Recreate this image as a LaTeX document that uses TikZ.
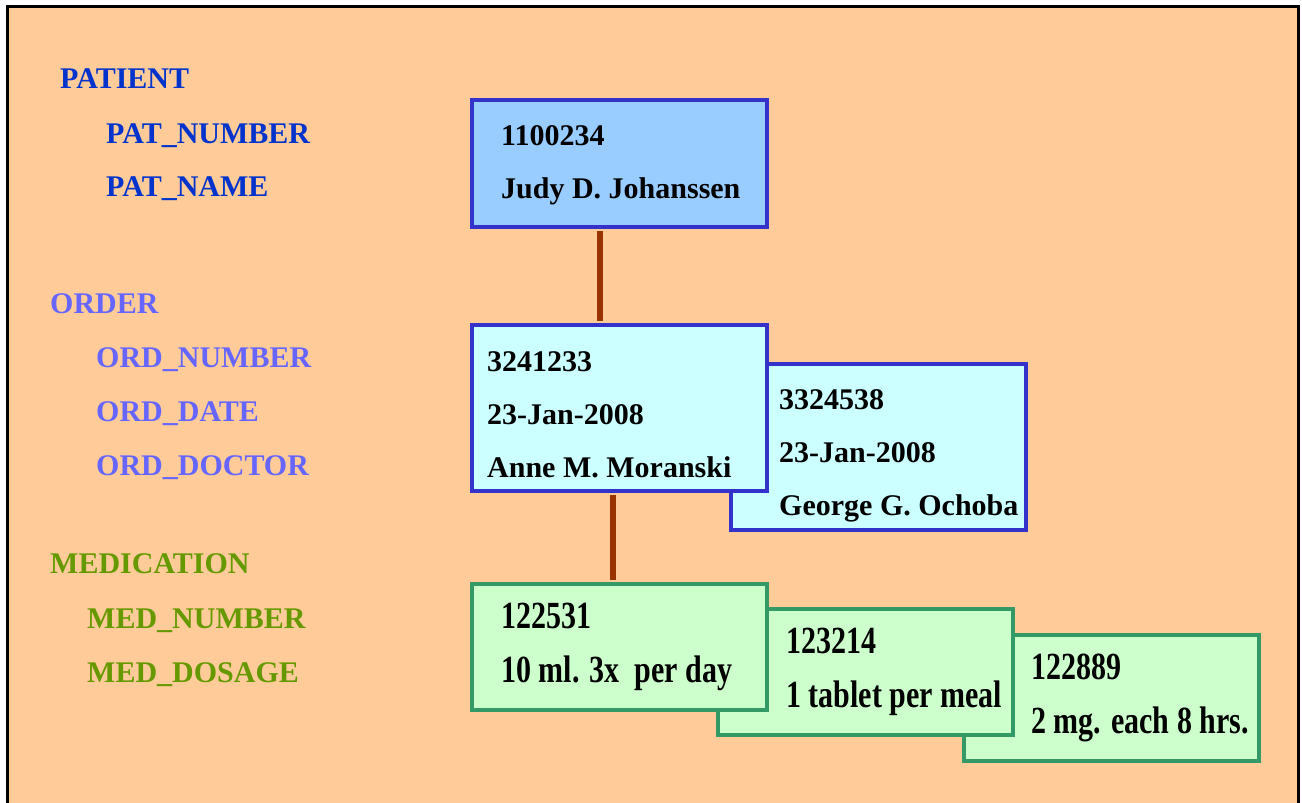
\documentclass[tikz,border=0pt]{standalone}
\usepackage{fontspec}
\setmainfont{Liberation Serif}
\usepackage{graphicx}
\definecolor{sheet}{HTML}{FFCC99}
\definecolor{patblue}{HTML}{0033CC}
\definecolor{ordblue}{HTML}{6666FF}
\definecolor{medgreen}{HTML}{669900}
\definecolor{patfill}{HTML}{99CCFF}
\definecolor{ordfill}{HTML}{CCFFFF}
\definecolor{medfill}{HTML}{CCFFCC}
\definecolor{boxblue}{HTML}{3333CC}
\definecolor{boxgreen}{HTML}{339966}
\definecolor{link}{HTML}{993300}
\newcommand{\stretchtext}[1]{\scalebox{1}[1.28]{#1}}
\begin{document}
\begin{tikzpicture}[x=1pt,y=-1pt,
  every node/.style={font=\fontsize{30}{30}\selectfont\bfseries},
  txt/.style={anchor=base west,inner sep=0pt,text=black},
  patlbl/.style={txt,text=patblue},
  ordlbl/.style={txt,text=ordblue},
  medlbl/.style={txt,text=medgreen},
  recbox/.style={draw,line width=4pt,anchor=north west,inner sep=0pt,
    minimum width=295pt,minimum height=#1},
  patbox/.style={recbox=127pt,draw=boxblue,fill=patfill},
  ordbox/.style={recbox=166pt,draw=boxblue,fill=ordfill},
  medbox/.style={recbox=126pt,draw=boxgreen,fill=medfill},
  connector/.style={draw=link,line width=6pt}]
\useasboundingbox (0,0) rectangle (1302,803);
\fill[white] (0,0) rectangle (1302,803);
\fill[sheet,draw=black,line width=3pt] (7.5,6.5) rectangle (1298.5,820);

% entity and attribute names
\node[patlbl] (lpat) at (60,88) {PATIENT};
\node[patlbl] (lpatnum) at (106,143) {PAT\_NUMBER};
\node[patlbl] (lpatname) at (106,196) {PAT\_NAME};
\node[ordlbl] (lord) at (50,313) {ORDER};
\node[ordlbl] (lordnum) at (96,367) {ORD\_NUMBER};
\node[ordlbl] (lorddate) at (96,421) {ORD\_DATE};
\node[ordlbl] (lorddoc) at (96,475) {ORD\_DOCTOR};
\node[medlbl] (lmed) at (50,573) {MEDICATION};
\node[medlbl] (lmednum) at (87,628) {MED\_NUMBER};
\node[medlbl] (lmeddose) at (87,682) {MED\_DOSAGE};

% record boxes, back to front
\node[patbox] (pat) at (470,98) {};
\node[ordbox] (ord2) at (729,362) {};
\node[ordbox] (ord1) at (470,323) {};
\node[medbox] (med3) at (962,633) {};
\node[medbox] (med2) at (716,607) {};
\node[medbox] (med1) at (470,582) {};

% links between the records
\path[connector] ([xshift=-19.5pt,yshift=-2pt]pat.south) -- ([xshift=-19.5pt,yshift=2pt]ord1.north);
\path[connector] ([xshift=-6.5pt,yshift=-2pt]ord1.south) -- ([xshift=-6.5pt,yshift=2pt]med1.north);

% record contents
\node[txt] (p1) at (501,145) {1100234};
\node[txt] (p2) at (501,198) {Judy D. Johanssen};

\node[txt] (o21) at (779,409) {3324538};
\node[txt] (o22) at (779,462) {23-Jan-2008};
\node[txt] (o23) at (779,515) {George G. Ochoba};

\node[txt] (o11) at (487,371) {3241233};
\node[txt] (o12) at (487,424) {23-Jan-2008};
\node[txt] (o13) at (487,477) {Anne M. Moranski};

\node[txt] (m31) at (1031,679) {\stretchtext{122889}};
\node[txt] (m32) at (1031,733) {\stretchtext{2 mg. each 8 hrs.}};
\node[txt] (m21) at (786,653) {\stretchtext{123214}};
\node[txt] (m22) at (786,707) {\stretchtext{1 tablet per meal}};
\node[txt] (m11) at (501,628) {\stretchtext{122531}};
\node[txt] (m12) at (501,682) {\stretchtext{10 ml. 3x\ \ per day}};
\end{tikzpicture}
\end{document}
